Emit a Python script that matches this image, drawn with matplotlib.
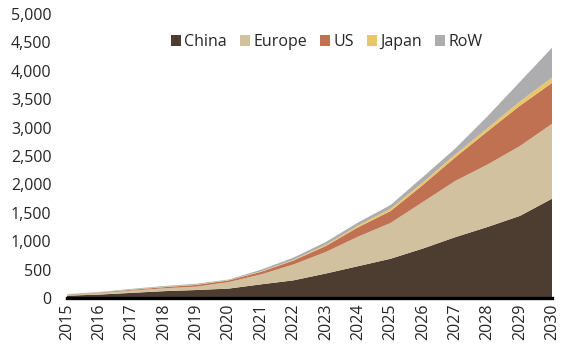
import matplotlib
matplotlib.use("Agg")
import matplotlib.pyplot as plt
from matplotlib.ticker import FuncFormatter, MultipleLocator

years = list(range(2015, 2031))
china = [40, 60, 90, 120, 140, 165, 240, 310, 430, 560, 690, 870, 1070, 1250, 1445, 1750]
europe = [15, 25, 40, 50, 60, 115, 175, 280, 380, 520, 630, 820, 990, 1100, 1230, 1320]
us = [7, 10, 15, 20, 30, 30, 45, 70, 105, 165, 210, 300, 415, 585, 710, 720]
japan = [2, 3, 4, 5, 5, 5, 8, 10, 20, 30, 40, 45, 50, 55, 75, 95]
row = [4, 7, 11, 15, 15, 10, 30, 40, 50, 55, 65, 95, 105, 210, 345, 525]
labels = ["China", "Europe", "US", "Japan", "RoW"]
colors = ["#4d3c30", "#d2c19e", "#c07152", "#e9c767", "#adadb0"]

plt.rcParams['font.family'] = ['Open Sans', 'DejaVu Sans']
fig = plt.figure(figsize=(5.67, 3.59), dpi=100)
ax = fig.add_axes([0.118, 0.170, 0.856, 0.791])
ax.stackplot(years, china, europe, us, japan, row, labels=labels, colors=colors, linewidth=0)
ax.set_xlim(2015, 2030)
ax.set_ylim(0, 5000)
ax.yaxis.set_major_locator(MultipleLocator(500))
ax.yaxis.set_major_formatter(FuncFormatter(lambda v, p: f"{int(v):,}"))
ax.set_xticks(years)
ax.set_xticklabels([str(y) for y in years], rotation=90)
for s in ["top", "right", "left"]:
    ax.spines[s].set_visible(False)
ax.spines["bottom"].set_linewidth(2.4)
ax.spines["bottom"].set_color("black")
ax.tick_params(axis="y", length=0, pad=11, labelsize=11.5, labelcolor="#262626")
ax.tick_params(axis="x", length=0, pad=4, labelsize=11.5, labelcolor="#262626")
leg = ax.legend(loc="upper center", bbox_to_anchor=(0.535, 0.98), ncol=5, frameon=False,
                handlelength=0.65, handleheight=0.65, handletextpad=0.2, columnspacing=0.8,
                fontsize=11.5, labelcolor="#262626")
fig.savefig("out.png", dpi=100)
